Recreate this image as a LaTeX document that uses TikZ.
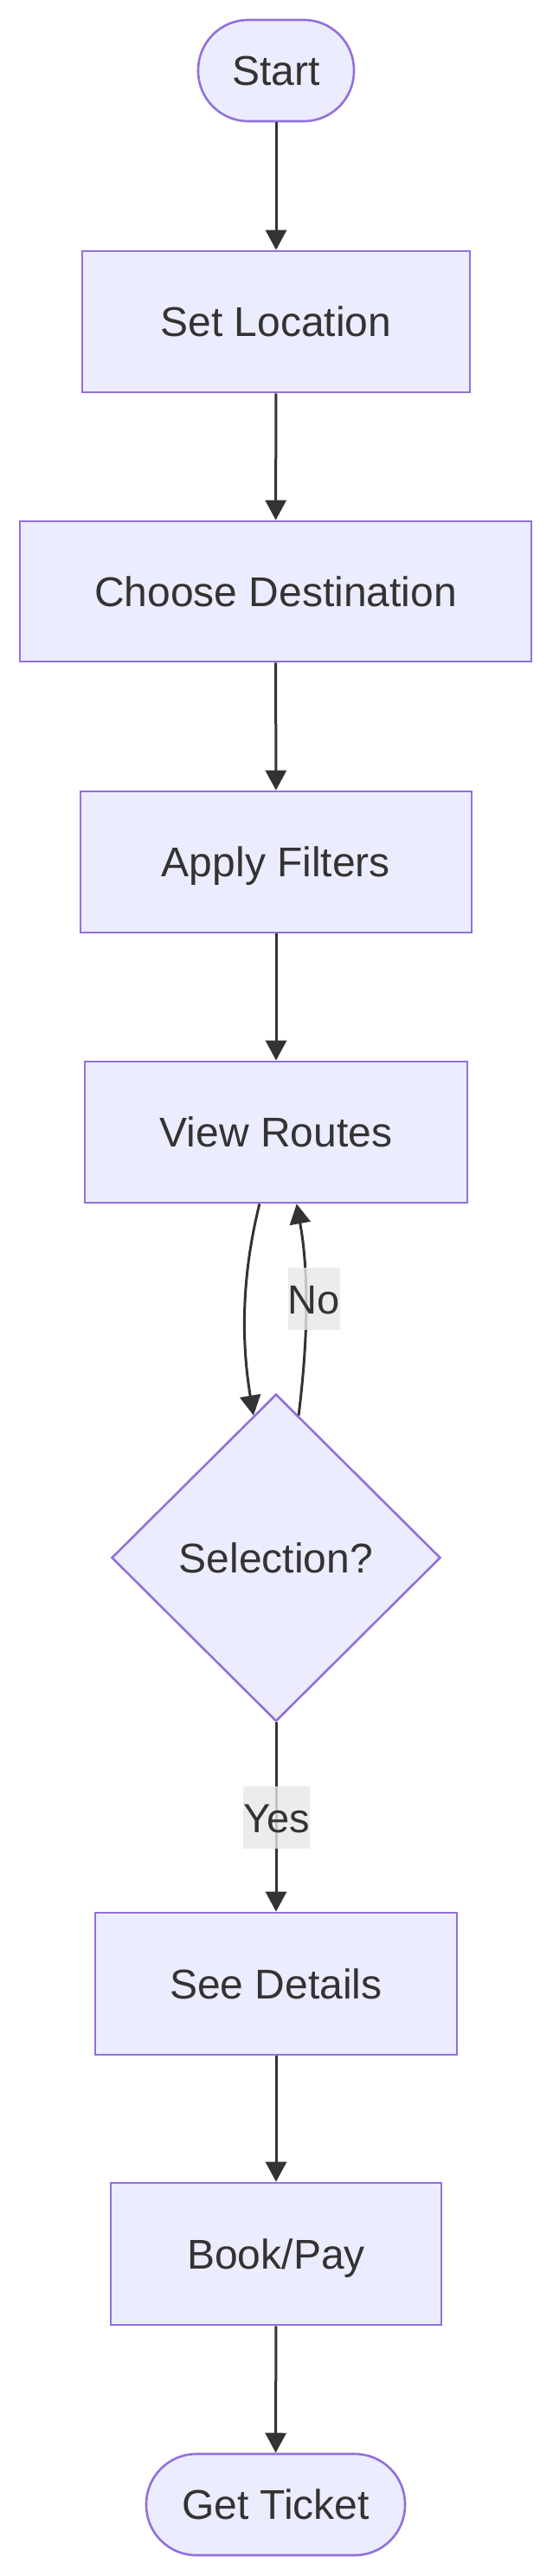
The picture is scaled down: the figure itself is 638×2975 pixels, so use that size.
\documentclass[tikz,border=0pt]{standalone}
\usepackage{fontspec}
\setmainfont{Liberation Sans}
\usetikzlibrary{shapes.geometric,arrows.meta}
\definecolor{nodefill}{HTML}{ECECFF}
\definecolor{nodeline}{HTML}{9370DB}
\definecolor{ink}{HTML}{333333}
\definecolor{lblbg}{HTML}{E8E8E8}
\begin{document}
\begin{tikzpicture}[x=1pt,y=-1pt,
  base/.style={draw=nodeline, fill=nodefill, line width=2.6pt, text=ink,
    font=\fontsize{48}{56}\selectfont, inner sep=0pt, text height=34pt, text depth=0pt},
  procbox/.style={base, rectangle},
  stadium/.style={base, rectangle, rounded corners=58pt},
  decision/.style={base, diamond, aspect=1},
  edge/.style={draw=ink, line width=3pt, -{Triangle[width=24pt,length=23pt]}},
  elabel/.style={fill=lblbg, fill opacity=0.8, text opacity=1, text=ink, inner sep=0pt,
    font=\fontsize{47}{56}\selectfont, text height=34pt, text depth=0pt}
]
\useasboundingbox (0,0) rectangle (638,2975);
\fill[white] (0,0) rectangle (638,2975);

\node[stadium, minimum width=180pt, minimum height=117pt] (S) at (319,81.5) {Start};
\node[procbox, minimum width=448pt, minimum height=163pt] (SL) at (319,371.5) {Set Location};
\node[procbox, minimum width=591pt, minimum height=162pt] (CD) at (318.5,683) {Choose Destination};
\node[procbox, minimum width=452pt, minimum height=163pt] (AF) at (319,995.5) {Apply Filters};
\node[procbox, minimum width=442pt, minimum height=163pt] (VR) at (319,1307.5) {View Routes};
\node[decision, minimum width=380pt, minimum height=378pt] (D) at (319,1799) {Selection?};
\node[procbox, minimum width=418pt, minimum height=164pt] (SD) at (319,2291) {See Details};
\node[procbox, minimum width=382pt, minimum height=164pt] (BP) at (319,2603) {Book/Pay};
\node[stadium, minimum width=299pt, minimum height=117pt] (GT) at (318.5,2892.5) {Get Ticket};

\draw[edge] (S) -- (SL);
\draw[edge] (SL) -- (CD);
\draw[edge] (CD) -- (AF);
\draw[edge] (AF) -- (VR);
\draw[edge] (VR.-103) .. controls (280,1470) and (278,1545) .. (D.99);
\draw[edge] (D.81) .. controls (355,1555) and (358,1475) .. (VR.-74);
\draw[edge] (D) -- (SD);
\draw[edge] (SD) -- (BP);
\draw[edge] (BP) -- (GT);

\node[elabel, minimum width=57pt, minimum height=72pt] (lno) at (363,1500) {No};
\node[elabel, minimum width=69pt, minimum height=72pt] (lyes) at (319.5,2099) {Yes};
\end{tikzpicture}
\end{document}
